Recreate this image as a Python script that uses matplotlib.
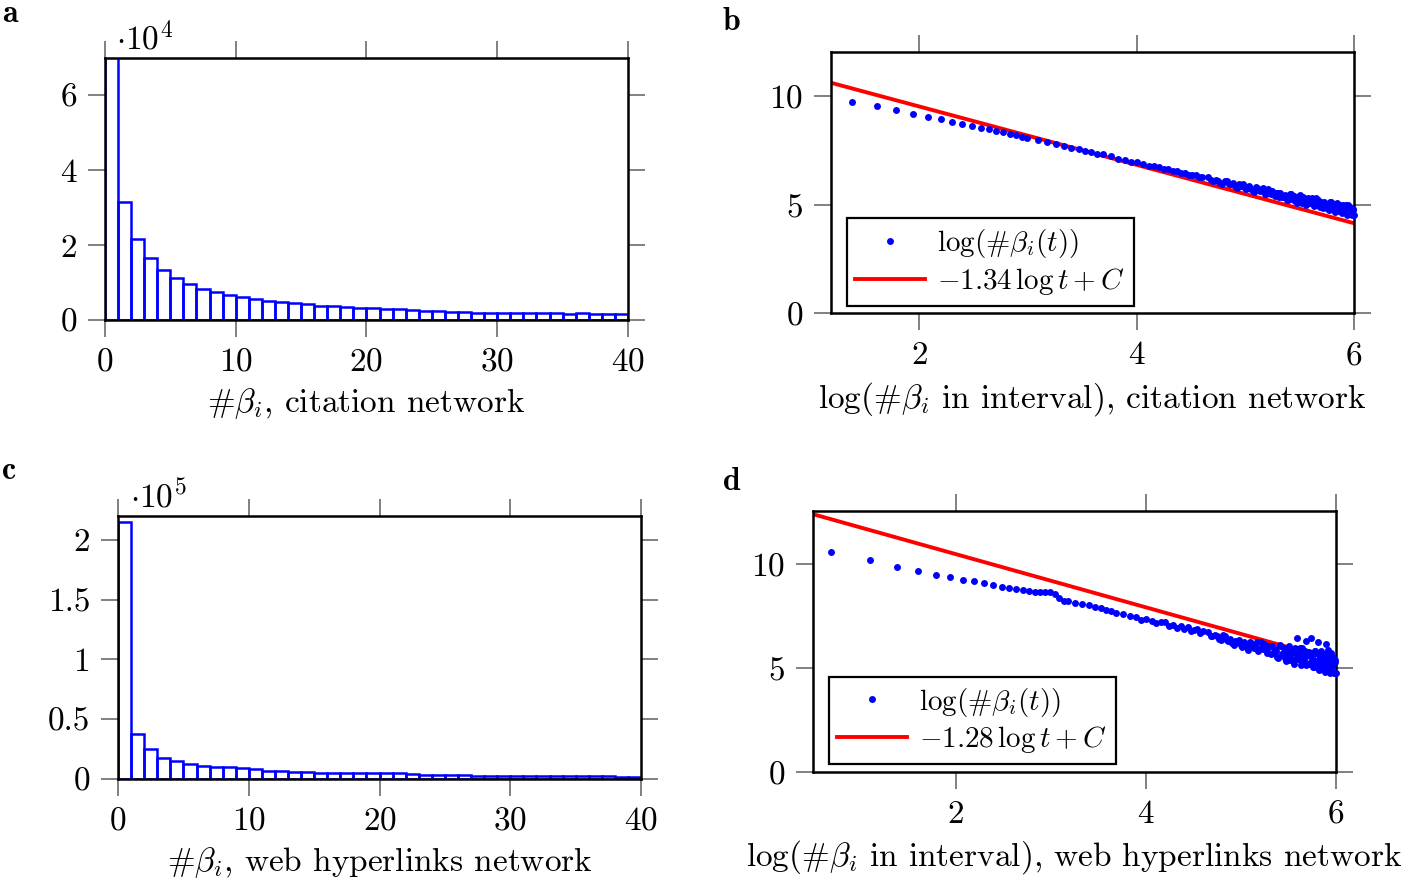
import numpy as np
import matplotlib
matplotlib.use('Agg')
import matplotlib.pyplot as plt
from matplotlib.lines import Line2D

# 字体: 仿 LaTeX 的 Computer Modern
plt.rcParams['font.family'] = 'serif'
plt.rcParams['font.serif'] = ['cmr10']
plt.rcParams['mathtext.fontset'] = 'cm'
plt.rcParams['axes.formatter.use_mathtext'] = True

# a: 引文网络直方图 (每个 bin 宽 1)
cit_bins = list(range(40))
cit_counts = [75000, 31500, 21600, 16500, 13400, 11300, 9650, 8300, 7400, 6700,
              6200, 5600, 5200, 4800, 4600, 4200, 3700, 3700, 3400, 3200,
              3200, 2900, 2900, 2700, 2400, 2400, 2200, 2200, 2000, 2000,
              2000, 1800, 1800, 1800, 1800, 1500, 1800, 1500, 1500, 1500]

# c: 网页超链接网络直方图
web_bins = list(range(40))
web_counts = [214700, 37700, 25200, 17600, 15400, 12600, 11200, 10300, 9800, 8900,
              8100, 7000, 7000, 6200, 6200, 5300, 4800, 4800, 4800, 4800,
              4800, 4800, 3900, 3100, 3100, 3100, 3100, 2500, 2500, 2500,
              2400, 2400, 2300, 2300, 2200, 2200, 2100, 2100, 2000, 2000]

# b: 区间内 #beta_i 数 t 与 log(#beta_i(t))
cit_t = (list(range(4, 21)) + list(range(22, 41, 2)) + list(range(43, 101, 3))
         + list(range(105, 401, 5)) + list(range(108, 404, 5)))
cit_y = [9.72, 9.52, 9.32, 9.15, 9.01, 8.91, 8.80, 8.71, 8.60, 8.52,
         8.45, 8.37, 8.31, 8.23, 8.17, 8.12, 8.07,
         7.96, 7.87, 7.78, 7.70, 7.61, 7.56, 7.45, 7.42, 7.31, 7.30,
         7.22, 7.10, 7.06, 6.97, 6.94, 6.85, 6.79, 6.77, 6.73, 6.63,
         6.61, 6.53, 6.53, 6.45, 6.46, 6.36, 6.35, 6.34, 6.25, 6.26,
         # t = 105 .. 400
         6.25, 6.10, 6.10, 5.95, 6.09, 5.94, 5.84, 5.92, 5.95, 5.70,
         5.78, 5.58, 5.75, 5.60, 5.74, 5.50, 5.55, 5.63, 5.37, 5.51,
         5.54, 5.34, 5.40, 5.21, 5.47, 5.29, 5.18, 5.33, 5.42, 5.08,
         5.23, 4.98, 5.25, 5.07, 5.29, 4.99, 5.07, 5.19, 4.87, 5.07,
         5.12, 4.90, 4.98, 4.75, 5.10, 4.89, 4.76, 4.96, 5.08, 4.69,
         4.88, 4.59, 4.90, 4.71, 4.96, 4.64, 4.73, 4.88, 4.52, 4.76,
         # t = 108 .. 403
         6.11, 6.14, 5.98, 6.10, 5.95, 5.99, 5.76, 5.86, 5.76, 5.86,
         5.65, 5.81, 5.65, 5.69, 5.46, 5.71, 5.49, 5.53, 5.55, 5.33,
         5.34, 5.44, 5.22, 5.49, 5.27, 5.41, 5.09, 5.27, 5.16, 5.33,
         5.07, 5.31, 5.12, 5.20, 4.92, 5.28, 5.00, 5.08, 5.12, 4.86,
         4.89, 5.03, 4.78, 5.12, 4.88, 5.03, 4.67, 4.88, 4.76, 4.98,
         4.69, 4.98, 4.76, 4.86, 4.54, 4.97, 4.65, 4.76, 4.81, 4.52]
cit_slope = -1.34
cit_C = 12.18

# d: 网页超链接网络
web_t = (list(range(2, 25)) + list(range(26, 41, 2)) + list(range(43, 101, 3))
         + list(range(105, 401, 5)) + list(range(108, 404, 5))
         + [268, 293, 311, 334, 365, 369])
web_y = [10.60, 10.19, 9.86, 9.66, 9.49, 9.36, 9.25, 9.18, 9.10, 8.98,
         8.88, 8.85, 8.81, 8.73, 8.70, 8.68, 8.67, 8.66, 8.66, 8.55,
         8.35, 8.22, 8.20,
         8.13, 8.08, 8.02, 7.95, 7.89, 7.81, 7.73, 7.67,
         7.61, 7.48, 7.44, 7.31, 7.35, 7.25, 7.18, 7.20, 7.20, 7.02,
         7.06, 6.91, 7.01, 6.90, 6.98, 6.80, 6.82, 6.86, 6.68, 6.76,
         # t = 105 .. 400
         6.72, 6.52, 6.53, 6.33, 6.52, 6.32, 6.19, 6.30, 6.35, 6.01,
         6.15, 5.89, 6.18, 5.98, 6.25, 5.91, 6.02, 6.17, 5.73, 6.00,
         6.06, 5.71, 5.84, 5.47, 6.05, 5.70, 5.49, 5.86, 6.08, 5.38,
         5.72, 5.20, 5.81, 5.45, 5.95, 5.33, 5.53, 5.83, 5.14, 5.63,
         5.75, 5.29, 5.50, 5.03, 5.80, 5.35, 5.10, 5.55, 5.82, 4.98,
         5.40, 4.79, 5.51, 5.09, 5.67, 4.96, 5.19, 5.52, 4.75, 5.28,
         # t = 108 .. 403
         6.56, 6.60, 6.39, 6.58, 6.35, 6.42, 6.11, 6.23, 6.09, 6.25,
         5.99, 6.24, 6.04, 6.13, 5.82, 6.26, 5.92, 6.01, 6.07, 5.68,
         5.70, 5.93, 5.53, 6.09, 5.68, 5.95, 5.33, 5.73, 5.51, 5.93,
         5.38, 5.95, 5.55, 5.74, 5.16, 5.98, 5.39, 5.59, 5.72, 5.17,
         5.25, 5.60, 5.07, 5.84, 5.32, 5.67, 4.90, 5.40, 5.14, 5.65,
         5.00, 5.66, 5.20, 5.43, 4.76, 5.70, 5.03, 5.26, 5.39, 4.77,
         # 离群点
         6.46, 6.31, 6.46, 6.26, 6.14, 5.87]
web_slope = -1.28
web_C = 13.04

BLUE = '#0000ff'
RED = '#ff0000'
FS = 24

fig = plt.figure(figsize=(14.24, 8.84), dpi=100)
ax_a = fig.add_axes([0.0737, 0.638, 0.3673, 0.2964])
ax_b = fig.add_axes([0.5836, 0.6454, 0.3673, 0.2958])
ax_c = fig.add_axes([0.0829, 0.1188, 0.3673, 0.2975])
ax_d = fig.add_axes([0.5709, 0.1267, 0.3673, 0.2952])


def style(ax):
    ax.tick_params(direction='out', length=12, width=1.4, color='#808080',
                   pad=8, labelsize=FS, top=True, right=True)
    for s in ax.spines.values():
        s.set_linewidth(1.8)


# 直方图
def hist(ax, bins, counts, ymax, yticks, ylabels, power, xlabel):
    ax.bar(bins, counts, width=1, align='edge', fill=False,
           edgecolor=BLUE, linewidth=1.8)
    ax.set_xlim(0, 40)
    ax.set_ylim(0, ymax)
    ax.set_xticks([0, 10, 20, 30, 40])
    ax.set_yticks(yticks, ylabels)
    style(ax)
    ax.text(0.022, 1.01, r'$\cdot 10^{%d}$' % power, transform=ax.transAxes,
            fontsize=FS, va='bottom', ha='left')
    ax.set_xlabel(xlabel, fontsize=FS, labelpad=7)


hist(ax_a, cit_bins, cit_counts, 70000, [0, 20000, 40000, 60000],
     ['0', '2', '4', '6'], 4, r'$\#\beta_i$, citation network')
hist(ax_c, web_bins, web_counts, 220000, [0, 50000, 100000, 150000, 200000],
     ['0', '0.5', '1', '1.5', '2'], 5, r'$\#\beta_i$, web hyperlinks network')


# 散点 + 拟合直线
def loglog(ax, t, y, slope, C, xmin, ymax, label, xlabel):
    x = np.log(t)
    ax.plot(x, y, 'o', color=BLUE, ms=5, mew=0, clip_on=False, zorder=3)
    xs = np.array([xmin, 6.0])
    ax.plot(xs, slope * xs + C, color=RED, lw=2.8, zorder=2)
    ax.set_xlim(xmin, 6.0)
    ax.set_ylim(0, ymax)
    ax.set_xticks([2, 4, 6])
    ax.set_yticks([0, 5, 10])
    style(ax)
    handles = [Line2D([], [], ls='none', marker='o', color=BLUE, ms=5, mew=0),
               Line2D([], [], color=RED, lw=2.8)]
    leg = ax.legend(handles, [r'$\log(\#\beta_i(t))$', label],
                    loc='lower left', bbox_to_anchor=(0.03, 0.03),
                    borderaxespad=0, fontsize=21, fancybox=False,
                    framealpha=1, edgecolor='black', handlelength=2.4,
                    handletextpad=0.4, borderpad=0.3, labelspacing=0.2)
    leg.get_frame().set_linewidth(1.6)
    ax.set_xlabel(xlabel, fontsize=FS, labelpad=7)


loglog(ax_b, cit_t, cit_y, cit_slope, cit_C, 1.19, 12.0,
       r'$-1.34\,\log t+C$',
       r'log($\#\beta_i$ in interval), citation network')
loglog(ax_d, web_t, web_y, web_slope, web_C, 0.5, 12.55,
       r'$-1.28\,\log t+C$',
       r'log($\#\beta_i$ in interval), web hyperlinks network')

# 子图编号
for lab, x, y in [('a', 2 / 1424, 1 - 22 / 884), ('b', 723 / 1424, 1 - 30 / 884),
                  ('c', 2 / 1424, 1 - 479 / 884), ('d', 723 / 1424, 1 - 490 / 884)]:
    fig.text(x, y, lab, fontsize=23, family='cmb10', va='baseline', ha='left')

fig.savefig('out.png', dpi=100)
